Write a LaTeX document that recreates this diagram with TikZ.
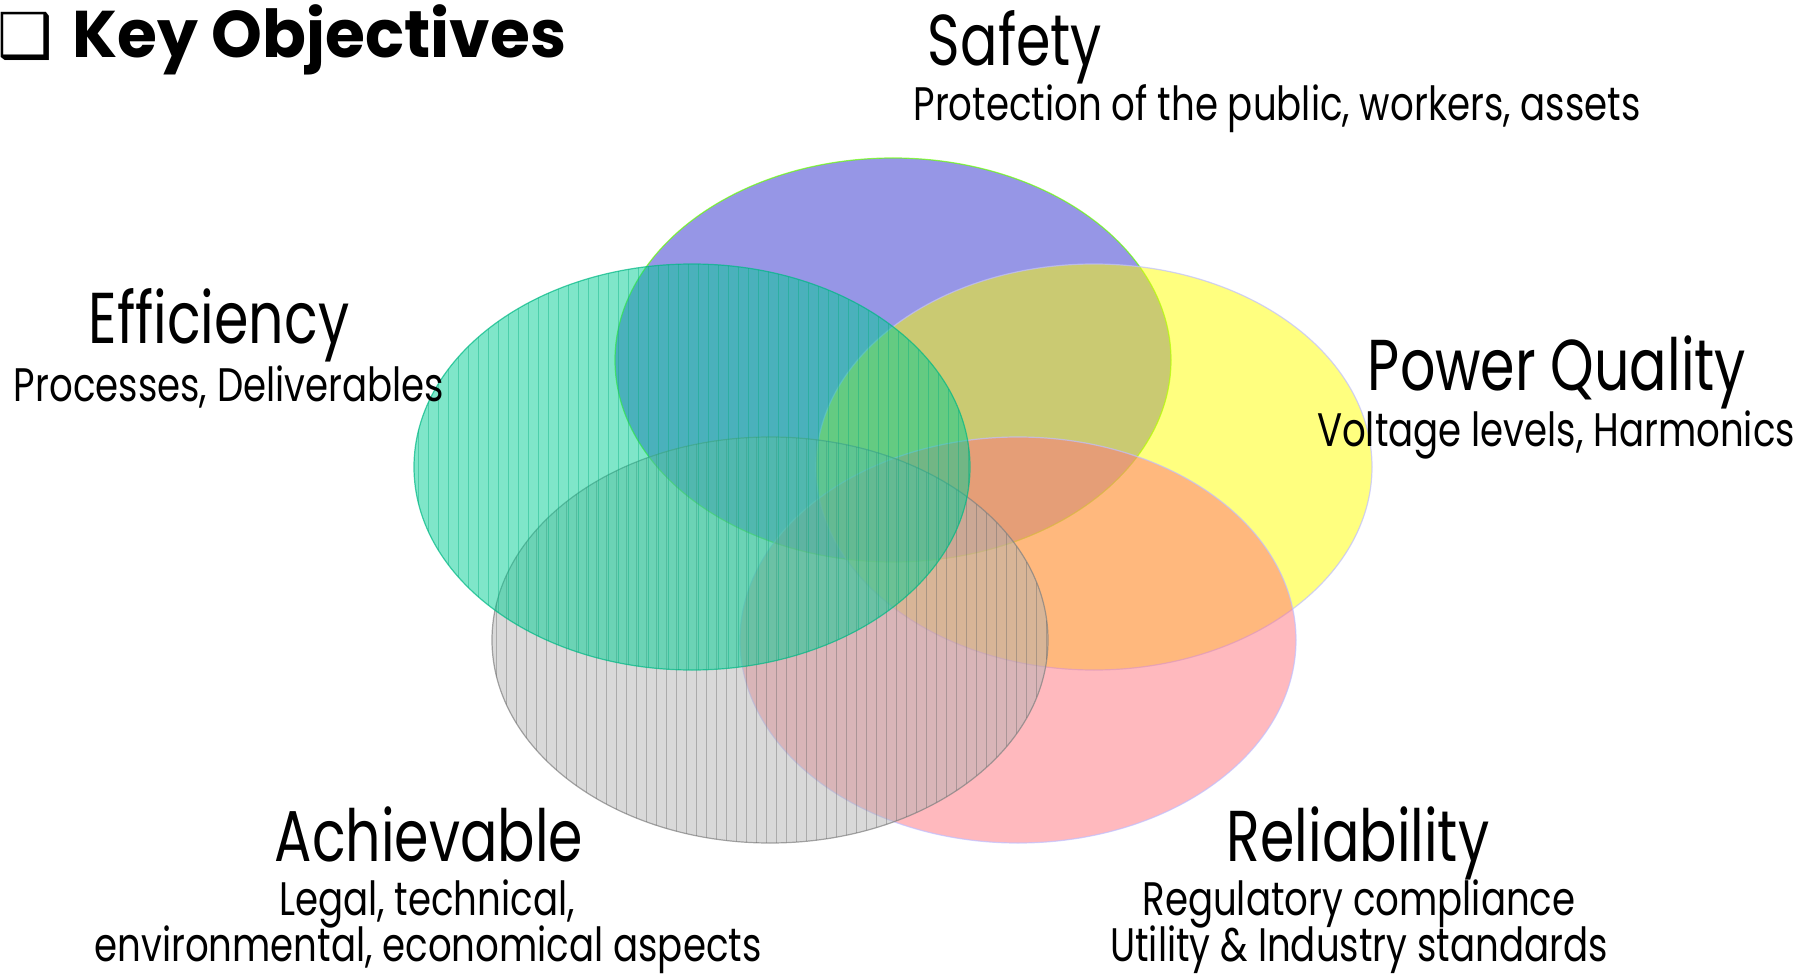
\documentclass[tikz,border=0pt]{standalone}
\usepackage{fontspec}
\setmainfont{Poppins}[FakeStretch=0.79]
\newfontfamily\namefont{Poppins}[FakeStretch=0.77]
\newfontfamily\headfont{Poppins}[FakeStretch=0.98]
\newfontfamily\symbfont{DejaVu Sans}

\definecolor{safetyblue}{RGB}{45,45,205}
\definecolor{pqyellow}{RGB}{255,255,0}
\definecolor{relpink}{RGB}{255,115,125}
\definecolor{achgrey}{RGB}{179,179,179}
\definecolor{effgreen}{RGB}{0,205,147}

\begin{document}
\begin{tikzpicture}[x=1pt,y=-1pt,
    venn/.style={fill opacity=0.5,draw opacity=0.7,line width=1.2pt},
    stripe/.style={line width=1pt,opacity=0.4},
    head/.style={anchor=base,inner sep=0pt,font=\namefont\fontsize{72}{80}\selectfont},
    sub/.style={anchor=base,inner sep=0pt,font=\fontsize{47}{52}\selectfont}]
  \useasboundingbox (0,0) rectangle (1818,976);

  % the five objectives
  \filldraw[venn,fill=safetyblue,draw=green!60!yellow] (893,360) ellipse [x radius=278,y radius=202];
  \filldraw[venn,fill=pqyellow,draw=blue!25] (1094,467) ellipse [x radius=278,y radius=203];
  \filldraw[venn,fill=relpink,draw=blue!25] (1018,640) ellipse [x radius=278,y radius=203];
  \filldraw[venn,fill=achgrey,draw=gray] (770,640) ellipse [x radius=278,y radius=203];
  \begin{scope}
    \clip (770,640) ellipse [x radius=278,y radius=203];
    \foreach \sx in {496,506,...,1046}
      \draw[stripe,gray!80!black] (\sx,437) -- (\sx,843);
  \end{scope}
  \filldraw[venn,fill=effgreen,draw=effgreen!90!black] (692,467) ellipse [x radius=278,y radius=203];
  \begin{scope}
    \clip (692,467) ellipse [x radius=278,y radius=203];
    \foreach \sx in {418,428,...,968}
      \draw[stripe,effgreen!85!black] (\sx,264) -- (\sx,670);
  \end{scope}

  % title
  \node[font=\symbfont\fontsize{62}{62}\selectfont,inner sep=0pt] (bullet) at (25,36) {❑};
  \node[anchor=base west,inner sep=0pt,font=\headfont\bfseries\fontsize{66}{70}\selectfont] (title) at (72,58) {Key Objectives};

  % labels
  \node[head] (safety) at (1015,66) {Safety};
  \node[sub] (safetysub) at (1277,121) {Protection of the public, workers, assets};
  \node[head] (efficiency) at (219,343) {Efficiency};
  \node[sub] (efficiencysub) at (229,401) {Processes, Deliverables};
  \node[head] (pq) at (1557,390) {Power Quality};
  \node[sub] (pqsub) at (1556,446) {Voltage levels, Harmonics};
  \node[head] (achievable) at (429,861) {Achievable};
  \node[sub] (achievablesub) at (427,915) {Legal, technical,};
  \node[sub] (achievablesubb) at (428,961) {environmental, economical aspects};
  \node[head] (reliability) at (1358,861) {Reliability};
  \node[sub] (reliabilitysub) at (1359,915) {Regulatory compliance};
  \node[sub] (reliabilitysubb) at (1359,961) {Utility \& Industry standards};
\end{tikzpicture}
\end{document}
